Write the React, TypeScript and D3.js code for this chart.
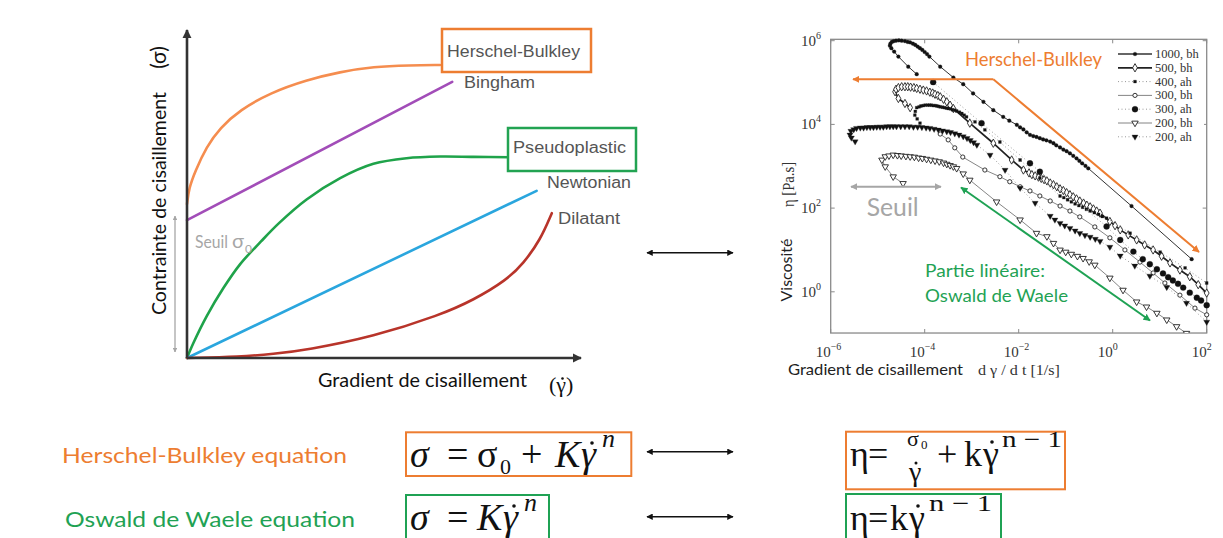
import React from 'react';
import * as d3 from 'd3';

type P = [number, number];

// ---------- Left (conceptual) chart: shear stress vs shear rate, arbitrary units ----------
const hbCurve: P[] = [[0, 4.62], [0.05, 5.1], [0.2, 5.6], [0.49, 6.35], [0.825, 6.91], [1.325, 7.45], [2.075, 7.96], [2.99, 8.35], [3.825, 8.59], [4.66, 8.75], [5.575, 8.79], [6.325, 8.8]];
const binghamLine: P[] = [[0, 4.14], [6.63, 8.29]];
const pseudoCurve: P[] = [[0, 0], [0.16, 0.45], [0.49, 1.25], [0.91, 2.1], [1.33, 2.82], [1.85, 3.5], [2.3, 4.05], [2.99, 4.76], [3.83, 5.4], [4.66, 5.83], [5.49, 6.0], [6.33, 6.05], [7.16, 6.04], [8.08, 6.03]];
const newtonLine: P[] = [[0, 0], [8.74, 5.02]];
const dilatantCurve: P[] = [[0, 0], [1.325, 0.04], [2.16, 0.12], [2.99, 0.24], [4.66, 0.64], [6.33, 1.29], [7.16, 1.74], [7.99, 2.34], [8.41, 2.84], [8.83, 3.54], [9.12, 4.35]];

// ---------- Right chart: viscosity vs shear rate, values as [log10 rate (1/s), log10 viscosity (Pa.s)] ----------
const s1000bh: P[] = [[-4.17, 5.2], [-4.35, 5.38], [-4.56, 5.62], [-4.65, 5.74], [-4.71, 5.82], [-4.74, 5.88], [-4.73, 5.93], [-4.7, 5.97], [-4.66, 5.99], [-4.61, 6.0], [-4.55, 6.01], [-4.49, 6.0], [-4.42, 5.99], [-4.36, 5.97], [-4.31, 5.96], [-4.25, 5.93], [-4.2, 5.9], [-4.15, 5.86], [-4.1, 5.82], [-4.05, 5.78], [-4.0, 5.73], [-3.95, 5.68], [-3.9, 5.62], [-3.67, 5.38], [-3.39, 5.12], [-3.18, 4.96], [-2.97, 4.74], [-2.75, 4.54], [-2.54, 4.34], [-2.33, 4.18], [-2.2, 4.09], [-2.04, 3.99], [-1.97, 3.93], [-1.9, 3.88], [-1.83, 3.81], [-1.76, 3.75], [-1.69, 3.72], [-1.62, 3.7], [-1.55, 3.67], [-1.48, 3.64], [-1.41, 3.62], [-1.33, 3.59], [-1.26, 3.55], [-1.2, 3.5], [-1.12, 3.45], [-1.05, 3.4], [-0.98, 3.36], [-0.91, 3.31], [-0.84, 3.25], [-0.77, 3.19], [-0.71, 3.13], [-0.65, 3.07], [-0.58, 3.01], [-0.52, 2.95], [0.4, 2.05], [1.68, 0.78]];
const s500bh: P[] = [[-4.31, 4.4], [-4.42, 4.5], [-4.56, 4.62], [-4.63, 4.78], [-4.61, 4.84], [-4.56, 4.88], [-4.49, 4.9], [-4.42, 4.9], [-4.36, 4.9], [-4.3, 4.89], [-4.23, 4.88], [-4.17, 4.86], [-4.1, 4.84], [-4.03, 4.82], [-3.96, 4.8], [-3.89, 4.77], [-3.83, 4.75], [-3.78, 4.72], [-3.72, 4.69], [-3.67, 4.66], [-3.6, 4.6], [-3.53, 4.54], [-3.46, 4.46], [-3.39, 4.38], [-3.04, 4.03], [-2.54, 3.55], [-2.15, 3.15], [-1.9, 2.91], [-1.78, 2.84], [-1.72, 2.8], [-1.65, 2.77], [-1.58, 2.74], [-1.52, 2.71], [-1.46, 2.68], [-1.4, 2.65], [-1.33, 2.6], [-1.26, 2.56], [-1.19, 2.51], [-1.12, 2.46], [-1.05, 2.42], [-0.98, 2.37], [-0.91, 2.32], [-0.84, 2.27], [-0.77, 2.22], [-0.7, 2.17], [-0.62, 2.12], [-0.55, 2.07], [-0.48, 2.03], [-0.41, 1.98], [-0.34, 1.93], [-0.27, 1.88], [-0.06, 1.68], [0.05, 1.58], [0.16, 1.48], [0.33, 1.36], [0.51, 1.24], [0.68, 1.12], [0.86, 1.0], [1.04, 0.85], [1.22, 0.69], [1.43, 0.52], [1.64, 0.36], [1.82, 0.17], [2.0, -0.03]];
const s400ah: P[] = [[-4.1, 4.03], [-4.16, 4.13], [-4.21, 4.22], [-4.2, 4.31], [-4.17, 4.4], [-4.12, 4.42], [-4.08, 4.44], [-4.03, 4.45], [-3.99, 4.46], [-3.94, 4.46], [-3.9, 4.46], [-3.86, 4.46], [-3.82, 4.45], [-3.78, 4.45], [-3.74, 4.44], [-3.7, 4.43], [-3.67, 4.42], [-3.62, 4.41], [-3.58, 4.4], [-3.54, 4.39], [-3.5, 4.38], [-3.45, 4.37], [-3.41, 4.35], [-3.36, 4.34], [-3.32, 4.32], [-3.26, 4.29], [-3.21, 4.26], [-3.16, 4.22], [-3.11, 4.18], [-2.93, 4.06], [-2.72, 3.87], [-2.4, 3.58], [-1.97, 3.15], [-1.55, 2.72], [-1.12, 2.29], [-1.04, 2.25], [-0.96, 2.2], [-0.88, 2.15], [-0.8, 2.1], [-0.72, 2.06], [-0.64, 2.02], [-0.56, 1.97], [-0.48, 1.93], [-0.39, 1.89], [-0.3, 1.85], [-0.22, 1.8], [-0.13, 1.76], [0.37, 1.4], [1.01, 0.95], [1.54, 0.57], [2.0, 0.21]];
const s300bh: P[] = [[-3.67, 3.77], [-3.5, 3.63], [-3.36, 3.44], [-3.19, 3.22], [-2.72, 2.91], [-2.4, 2.75], [-2.19, 2.63], [-1.97, 2.51], [-1.76, 2.41], [-1.55, 2.29], [-1.33, 2.17], [-1.12, 2.05], [-0.91, 1.93], [-0.7, 1.79], [-0.38, 1.55], [-0.06, 1.29], [0.26, 1.0], [0.58, 0.71], [0.86, 0.45], [1.11, 0.21], [1.43, -0.08], [1.75, -0.39], [2.0, -0.55]];
const s300ah: P[] = [[-3.82, 5.01], [-2.79, 4.03], [-1.76, 3.07], [-1.55, 2.87], [-0.13, 1.56], [0.16, 1.24], [0.44, 0.96], [0.64, 0.78], [0.79, 0.66], [0.94, 0.54], [1.07, 0.44], [1.18, 0.35], [1.28, 0.27], [1.39, 0.19], [1.5, 0.1], [1.64, -0.02], [1.79, -0.14], [1.88, -0.21], [2.0, -0.32]];
const s200bh: P[] = [[-4.46, 2.59], [-4.67, 2.75], [-4.84, 2.99], [-4.91, 3.15], [-4.84, 3.23], [-4.76, 3.25], [-4.67, 3.27], [-4.58, 3.26], [-4.5, 3.25], [-4.4, 3.24], [-4.31, 3.23], [-4.22, 3.22], [-4.13, 3.2], [-4.05, 3.19], [-3.96, 3.17], [-3.87, 3.15], [-3.78, 3.13], [-3.69, 3.11], [-3.6, 3.08], [-3.53, 3.05], [-3.46, 3.02], [-3.39, 2.99], [-3.32, 2.95], [-3.18, 2.82], [-3.04, 2.67], [-2.47, 2.15], [-1.97, 1.72], [-1.62, 1.4], [-1.4, 1.32], [-1.26, 1.16], [-1.12, 1.0], [-1.0, 0.95], [-0.88, 0.9], [-0.75, 0.85], [-0.63, 0.8], [-0.5, 0.72], [-0.38, 0.64], [-0.06, 0.33], [0.22, 0.04], [0.51, -0.24], [0.72, -0.36], [0.94, -0.51], [1.15, -0.67], [1.36, -0.83], [1.57, -0.99]];
const s200ah: P[] = [[-5.48, 3.59], [-5.56, 3.68], [-5.59, 3.75], [-5.57, 3.84], [-5.51, 3.88], [-5.45, 3.91], [-5.37, 3.92], [-5.3, 3.92], [-5.23, 3.93], [-5.16, 3.93], [-5.09, 3.93], [-5.02, 3.94], [-4.95, 3.94], [-4.88, 3.94], [-4.81, 3.95], [-4.74, 3.95], [-4.67, 3.95], [-4.6, 3.95], [-4.51, 3.95], [-4.42, 3.95], [-4.33, 3.95], [-4.24, 3.94], [-4.15, 3.94], [-4.06, 3.93], [-3.97, 3.92], [-3.89, 3.91], [-3.8, 3.89], [-3.71, 3.87], [-3.62, 3.85], [-3.53, 3.83], [-3.45, 3.81], [-3.36, 3.78], [-3.27, 3.75], [-3.18, 3.71], [-3.1, 3.67], [-3.03, 3.62], [-2.96, 3.57], [-2.89, 3.51], [-2.61, 3.27], [-2.29, 2.91], [-1.97, 2.48], [-1.65, 2.12], [-1.33, 1.81], [-1.23, 1.72], [-1.12, 1.64], [-1.02, 1.58], [-0.91, 1.52], [-0.8, 1.46], [-0.7, 1.4], [-0.59, 1.35], [-0.48, 1.31], [-0.37, 1.26], [-0.27, 1.21], [-0.06, 1.07], [0.16, 0.86], [0.47, 0.62], [0.79, 0.38], [1.15, 0.11], [1.57, -0.27], [2.0, -0.72]];

const seriesLabels = ['1000, bh', '500, bh', '400, ah', '300, bh', '300, ah', '200, bh', '200, ah'];
const xTickExps = [-6, -4, -2, 0, 2];
const yTickExps = [0, 2, 4, 6];

type Style = { data: P[]; sym: d3.SymbolType; size: number; filled: boolean; lw: number; dash?: string; lineColor: string; rot?: number };

const styles: Style[] = [
  { data: s1000bh, sym: d3.symbolCircle, size: 11, filled: true, lw: 1, lineColor: '#333' },
  { data: s500bh, sym: d3.symbolDiamond, size: 20, filled: false, lw: 1.7, lineColor: '#222' },
  { data: s400ah, sym: d3.symbolSquare, size: 8, filled: true, lw: 1, dash: '1 2.5', lineColor: '#999' },
  { data: s300bh, sym: d3.symbolCircle, size: 14, filled: false, lw: 0.8, lineColor: '#666' },
  { data: s300ah, sym: d3.symbolCircle, size: 28, filled: true, lw: 1, dash: '1 2.5', lineColor: '#999' },
  { data: s200bh, sym: d3.symbolTriangle, size: 18, filled: false, lw: 0.8, lineColor: '#666', rot: 180 },
  { data: s200ah, sym: d3.symbolTriangle, size: 16, filled: true, lw: 1, dash: '1 2.5', lineColor: '#999', rot: 180 },
];

const ORANGE = '#ED7D31';
const GREEN = '#1FA254';
const SANS = "Lato, 'Open Sans', sans-serif";
const ARIAL = "'Liberation Sans', Arial, sans-serif";
const SERIF = "'Liberation Serif', 'Times New Roman', serif";

export default function App() {
  // left chart scales
  const xL = d3.scaleLinear().domain([0, 10]).range([187, 587]);
  const yL = d3.scaleLinear().domain([0, 10]).range([358, 25]);
  const smooth = d3.line<P>().x((d) => xL(d[0])).y((d) => yL(d[1])).curve(d3.curveBasis);
  const through = d3.line<P>().x((d) => xL(d[0])).y((d) => yL(d[1])).curve(d3.curveCatmullRom.alpha(0.5));
  const straight = d3.line<P>().x((d) => xL(d[0])).y((d) => yL(d[1]));

  // right chart scales
  const xR = d3.scaleLog().domain([1e-6, 1e2]).range([830.7, 1206.7]);
  const yR = d3.scaleLog().domain([1, 1e6]).range([291.8, 40.7]);
  const box = { x0: xR(1e-6), x1: xR(1e2), y0: yR(10 ** 6.033), y1: yR(10 ** -0.985) };
  const toVal = (d: P): P => [10 ** d[0], 10 ** d[1]];
  const lineR = d3.line<P>().x((d) => xR(d[0])).y((d) => yR(d[1]));

  const symPath = (s: Style) => d3.symbol().type(s.sym).size(s.size)() as string;

  const legendX = 1118;
  const legendY0 = 54;
  const legendDy = 13.8;

  const lineCurves = [
    { d: smooth(hbCurve), c: '#F58D4F' },
    { d: straight(binghamLine), c: '#A24DB8' },
    { d: through(pseudoCurve), c: '#1FA34A' },
    { d: straight(newtonLine), c: '#2AA6DE' },
    { d: smooth(dilatantCurve), c: '#B8342A' },
  ];

  return (
    <svg width={1223} height={538} style={{ position: 'fixed', left: 0, top: 0, background: '#fff' }}>
      <defs>
        {[['k', '#111'], ['g', '#A6A6A6'], ['o', ORANGE], ['gr', GREEN], ['ax', '#333']].map(([id, c]) => (
          <marker key={id} id={`arr-${id}`} viewBox="0 0 10 10" refX={9} refY={5} markerWidth={id === 'k' ? 4 : 3.6} markerHeight={id === 'k' ? 4 : 3.6} orient="auto-start-reverse" markerUnits="strokeWidth">
            <path d="M0,0 L10,5 L0,10 z" fill={c} />
          </marker>
        ))}
        <clipPath id="plotclip">
          <rect x={box.x0 - 4} y={box.y0 - 4} width={box.x1 - box.x0 + 8} height={box.y1 - box.y0 + 4} />
        </clipPath>
      </defs>
      <rect x={0} y={0} width={1223} height={538} fill="#fff" />

      {/* ================= LEFT CHART ================= */}
      <g>
        {lineCurves.map((l, i) => (
          <path key={i} d={l.d || ''} fill="none" stroke={l.c} strokeWidth={2.6} strokeLinecap="round" />
        ))}
        <line x1={xL(0)} y1={yL(0)} x2={xL(0)} y2={30} stroke="#333" strokeWidth={2.6} markerEnd="url(#arr-ax)" />
        <line x1={xL(0)} y1={yL(0)} x2={581} y2={yL(0)} stroke="#333" strokeWidth={2.6} markerEnd="url(#arr-ax)" />
        <line x1={175} y1={216} x2={175} y2={352} stroke="#A6A6A6" strokeWidth={1.3} markerStart="url(#arr-g)" markerEnd="url(#arr-g)" />
        <text x={195} y={248} fontFamily={SANS} fontSize={18} fill="#A6A6A6" textLength={33} lengthAdjust="spacingAndGlyphs">Seuil</text>
        <text x={232} y={248} fontFamily={SANS} fontSize={20} fill="#A6A6A6">σ</text>
        <text x={245} y={253} fontFamily={SANS} fontSize={12} fill="#A6A6A6">0</text>
        <rect x={442} y={29} width={149} height={43} fill="#fff" stroke={ORANGE} strokeWidth={2.5} />
        <text x={447} y={57} fontFamily={ARIAL} fontSize={16} fill="#555" textLength={133} lengthAdjust="spacingAndGlyphs">Herschel-Bulkley</text>
        <text x={464} y={88} fontFamily={ARIAL} fontSize={16} fill="#555" textLength={71} lengthAdjust="spacingAndGlyphs">Bingham</text>
        <rect x={508} y={128} width={128} height={43} fill="#fff" stroke="#22A352" strokeWidth={2.5} />
        <text x={513} y={153} fontFamily={ARIAL} fontSize={16} fill="#555" textLength={113} lengthAdjust="spacingAndGlyphs">Pseudoplastic</text>
        <text x={547} y={188} fontFamily={ARIAL} fontSize={16} fill="#555" textLength={84} lengthAdjust="spacingAndGlyphs">Newtonian</text>
        <text x={558} y={224} fontFamily={ARIAL} fontSize={16} fill="#555" textLength={62} lengthAdjust="spacingAndGlyphs">Dilatant</text>
        <text transform="translate(166,203.5) rotate(-90)" textAnchor="middle" fontFamily={SANS} fontSize={20} fill="#111" textLength={223} lengthAdjust="spacingAndGlyphs">Contrainte de cisaillement</text>
        <text transform="translate(166,57.5) rotate(-90)" textAnchor="middle" fontFamily={SANS} fontSize={21} fill="#111">(σ)</text>
        <text x={318} y={387} fontFamily={SANS} fontSize={20} fill="#111" textLength={209} lengthAdjust="spacingAndGlyphs">Gradient de cisaillement</text>
        <text x={549} y={392} fontFamily={SERIF} fontSize={22} fill="#111">(γ)</text>
        <circle cx={562.5} cy={378.5} r={1.3} fill="#111" />
      </g>

      <line x1={647} y1={252.7} x2={733} y2={252.7} stroke="#111" strokeWidth={1.6} markerStart="url(#arr-k)" markerEnd="url(#arr-k)" />

      {/* ================= RIGHT CHART ================= */}
      <g>
        <rect x={box.x0} y={box.y0} width={box.x1 - box.x0} height={box.y1 - box.y0} fill="none" stroke="#8a8a8a" strokeWidth={1.3} />
        {xTickExps.map((e) => (
          <g key={`xt${e}`}>
            <line x1={xR(10 ** e)} x2={xR(10 ** e)} y1={box.y1} y2={box.y1 - 4} stroke="#8a8a8a" />
            <line x1={xR(10 ** e)} x2={xR(10 ** e)} y1={box.y0} y2={box.y0 + 4} stroke="#8a8a8a" />
            <text x={xR(10 ** e) - 15} y={357} fontFamily={SERIF} fontSize={15} fill="#333">
              10<tspan fontSize={10} dy={-7}>{e < 0 ? `−${-e}` : `${e}`}</tspan>
            </text>
          </g>
        ))}
        {yTickExps.map((e) => (
          <g key={`yt${e}`}>
            <line x1={box.x0} x2={box.x0 + 4} y1={yR(10 ** e)} y2={yR(10 ** e)} stroke="#8a8a8a" />
            <line x1={box.x1} x2={box.x1 - 4} y1={yR(10 ** e)} y2={yR(10 ** e)} stroke="#8a8a8a" />
            <text x={801} y={yR(10 ** e) + 5} fontFamily={SERIF} fontSize={15} fill="#333">
              10<tspan fontSize={10} dy={-7}>{e}</tspan>
            </text>
          </g>
        ))}

        <g clipPath="url(#plotclip)">
          {styles.map((s, i) => {
            const vals = s.data.map(toVal);
            return (
              <g key={`s${i}`}>
                <path d={lineR(vals) || ''} fill="none" stroke={s.lineColor} strokeWidth={s.lw} strokeDasharray={s.dash} />
                {vals.map((v, j) => (
                  <path key={j} d={symPath(s)} transform={`translate(${xR(v[0])},${yR(v[1])}) rotate(${s.rot || 0})`} fill={s.filled ? '#111' : '#fff'} stroke="#222" strokeWidth={s.filled ? 0.3 : 0.9} />
                ))}
              </g>
            );
          })}
        </g>

        {/* legend */}
        <rect x={1112} y={44} width={92} height={100} fill="#fff" />
        {styles.map((s, i) => {
          const y = legendY0 + i * legendDy;
          return (
            <g key={`lg${i}`}>
              <line x1={legendX} x2={legendX + 34} y1={y} y2={y} stroke={s.lineColor} strokeWidth={s.lw + (i === 0 ? 0.4 : 0)} strokeDasharray={s.dash} />
              <path d={symPath(s)} transform={`translate(${legendX + 17},${y}) rotate(${s.rot || 0})`} fill={s.filled ? '#111' : '#fff'} stroke="#222" strokeWidth={s.filled ? 0.3 : 0.9} />
              <text x={legendX + 37} y={y + 4} fontFamily={SERIF} fontSize={12.5} fill="#333">{seriesLabels[i]}</text>
            </g>
          );
        })}

        {/* annotations */}
        <text x={965} y={65.5} fontFamily={SANS} fontSize={19} fill={ORANGE} textLength={137} lengthAdjust="spacingAndGlyphs">Herschel-Bulkley</text>
        <polyline points="993.3,79.3 853,79.3" fill="none" stroke={ORANGE} strokeWidth={2} markerEnd="url(#arr-o)" />
        <line x1={993.3} y1={79.3} x2={1199} y2={252} stroke={ORANGE} strokeWidth={2} markerEnd="url(#arr-o)" />

        <line x1={851} y1={186.7} x2={941} y2={186.7} stroke="#A6A6A6" strokeWidth={2} markerStart="url(#arr-g)" markerEnd="url(#arr-g)" />
        <text x={866.7} y={216} fontFamily={SANS} fontSize={25} fill="#A6A6A6" textLength={52} lengthAdjust="spacingAndGlyphs">Seuil</text>

        <line x1={961} y1={187.5} x2={1150} y2={320.5} stroke={GREEN} strokeWidth={2} markerStart="url(#arr-gr)" markerEnd="url(#arr-gr)" />
        <text x={925} y={277.3} fontFamily={SANS} fontSize={18} fill={GREEN} textLength={120} lengthAdjust="spacingAndGlyphs">Partie linéaire:</text>
        <text x={925} y={301.7} fontFamily={SANS} fontSize={18} fill={GREEN} textLength={143} lengthAdjust="spacingAndGlyphs">Oswald de Waele</text>

        <text x={788} y={375} fontFamily={SANS} fontSize={16} fill="#222" textLength={175} lengthAdjust="spacingAndGlyphs">Gradient de cisaillement</text>
        <text x={978} y={375} fontFamily={SERIF} fontSize={15} fill="#333" textLength={82} lengthAdjust="spacingAndGlyphs">d γ / d t [1/s]</text>
        <text transform="translate(792,270) rotate(-90)" textAnchor="middle" fontFamily={SANS} fontSize={16} fill="#222" textLength={63} lengthAdjust="spacingAndGlyphs">Viscosité</text>
        <text transform="translate(794,184.5) rotate(-90)" textAnchor="middle" fontFamily={SERIF} fontSize={16} fill="#333" textLength={45} lengthAdjust="spacingAndGlyphs">η [Pa.s]</text>
      </g>

      {/* ================= EQUATIONS ================= */}
      <text x={62} y={463} fontFamily={SANS} fontSize={21} fill={ORANGE} textLength={285} lengthAdjust="spacingAndGlyphs">Herschel-Bulkley equation</text>
      <text x={65} y={527} fontFamily={SANS} fontSize={21} fill={GREEN} textLength={290} lengthAdjust="spacingAndGlyphs">Oswald de Waele equation</text>

      <rect x={406} y={432.3} width={225.3} height={43.7} fill="none" stroke={ORANGE} strokeWidth={2} />
      <rect x={846} y={431.7} width={219} height={57.6} fill="none" stroke={ORANGE} strokeWidth={2} />
      <rect x={406} y={495} width={143} height={46} fill="none" stroke={GREEN} strokeWidth={2} />
      <rect x={846} y={494} width={155} height={46} fill="none" stroke={GREEN} strokeWidth={2} />

      <line x1={647} y1={451.7} x2={733} y2={451.7} stroke="#111" strokeWidth={1.6} markerStart="url(#arr-k)" markerEnd="url(#arr-k)" />
      <line x1={647} y1={516.7} x2={733} y2={516.7} stroke="#111" strokeWidth={1.6} markerStart="url(#arr-k)" markerEnd="url(#arr-k)" />

      <g fontFamily={SERIF} fill="#111">
        {/* σ = σ0 + Kγ̇^n */}
        <text x={410} y={467} fontSize={38} fontStyle="italic">σ</text>
        <text x={447} y={467} fontSize={38}>=</text>
        <text x={477} y={467} fontSize={38}>σ</text>
        <text x={500} y={474} fontSize={22}>0</text>
        <text x={521} y={467} fontSize={38}>+</text>
        <text x={555} y={467} fontSize={38} fontStyle="italic">K</text>
        <text x={581} y={467} fontSize={38} fontStyle="italic">γ</text>
        <circle cx={592} cy={443} r={1.8} />
        <text x={602} y={447} fontSize={26} fontStyle="italic">n</text>

        {/* η = σ0/γ̇ + kγ̇^(n−1) */}
        <text x={850} y={466} fontSize={36}>η</text>
        <text x={868} y={466} fontSize={36}>=</text>
        <text x={907} y={446} fontSize={22}>σ</text>
        <text x={921} y={449} fontSize={13}>0</text>
        <text x={909} y={481} fontSize={28}>γ</text>
        <circle cx={916} cy={463} r={1.5} />
        <text x={937} y={466} fontSize={36}>+</text>
        <text x={964} y={466} fontSize={36}>k</text>
        <text x={983} y={466} fontSize={36}>γ</text>
        <circle cx={992} cy={442} r={1.8} />
        <text x={1002} y={447} fontSize={23} textLength={60} lengthAdjust="spacingAndGlyphs">n − 1</text>

        {/* σ = Kγ̇^n */}
        <text x={410} y={530} fontSize={38} fontStyle="italic">σ</text>
        <text x={447} y={530} fontSize={38}>=</text>
        <text x={477} y={530} fontSize={38} fontStyle="italic">K</text>
        <text x={503} y={530} fontSize={38} fontStyle="italic">γ</text>
        <circle cx={514} cy={506} r={1.8} />
        <text x={524} y={511} fontSize={26} fontStyle="italic">n</text>

        {/* η = kγ̇^(n−1) */}
        <text x={850} y={530} fontSize={36}>η</text>
        <text x={868} y={530} fontSize={36}>=</text>
        <text x={890} y={530} fontSize={36}>k</text>
        <text x={909} y={530} fontSize={36}>γ</text>
        <circle cx={918} cy={506} r={1.8} />
        <text x={929} y={511} fontSize={23} textLength={63} lengthAdjust="spacingAndGlyphs">n − 1</text>
      </g>
    </svg>
  );
}
